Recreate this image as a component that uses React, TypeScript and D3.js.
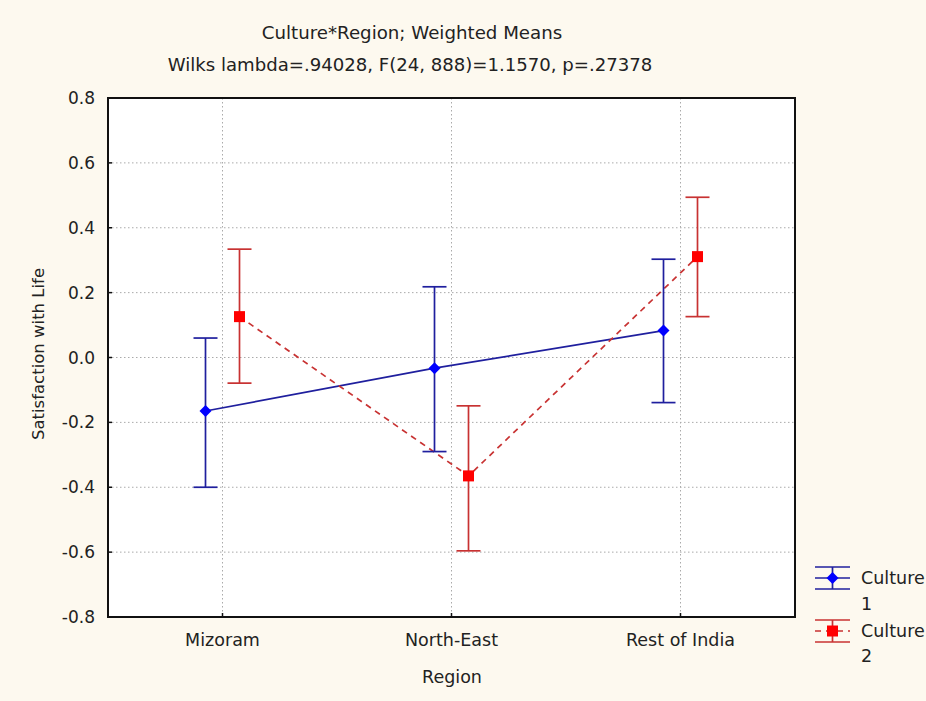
import React from "react";
import * as d3 from "d3";

// Weighted means of Satisfaction with Life by region, for each culture group,
// with confidence interval bounds.
const regions = ["Mizoram", "North-East", "Rest of India"];
const culture1Mean = [-0.165, -0.033, 0.083];
const culture1Upper = [0.06, 0.218, 0.303];
const culture1Lower = [-0.4, -0.29, -0.139];
const culture2Mean = [0.126, -0.365, 0.311];
const culture2Upper = [0.334, -0.149, 0.494];
const culture2Lower = [-0.079, -0.596, 0.126];
const yTicks = [0.8, 0.6, 0.4, 0.2, 0.0, -0.2, -0.4, -0.6, -0.8];

const W = 926;
const H = 701;
const plot = { left: 108, right: 795, top: 98, bottom: 617 };
const FONT = "'DejaVu Sans', sans-serif";
const TEXT = "#222";

const BLUE_LINE = "#1f1f9e";
const BLUE_MARK = "#0000ff";
const RED_LINE = "#c83232";
const RED_MARK = "#ff0000";

const fmtTick = (t: number) => d3.format(".1f")(t).replace("\u2212", "-");

export default function App() {
  const x = d3.scalePoint<string>().domain(regions).range([plot.left, plot.right]).padding(0.5);
  const y = d3.scaleLinear().domain([-0.8, 0.8]).range([plot.bottom, plot.top]);
  const offset = 17;
  const capHalf = 12;

  const c1 = regions.map((r, i) => ({
    x: (x(r) as number) - offset,
    m: culture1Mean[i],
    lo: culture1Lower[i],
    hi: culture1Upper[i],
  }));
  const c2 = regions.map((r, i) => ({
    x: (x(r) as number) + offset,
    m: culture2Mean[i],
    lo: culture2Lower[i],
    hi: culture2Upper[i],
  }));

  const line = d3
    .line<{ x: number; m: number }>()
    .x((d) => d.x)
    .y((d) => y(d.m));

  const errorBars = (pts: typeof c1, color: string) =>
    pts.map((p, i) => (
      <g key={i} stroke={color} strokeWidth={1.7} fill="none">
        <line x1={p.x} x2={p.x} y1={y(p.hi)} y2={y(p.lo)} />
        <line x1={p.x - capHalf} x2={p.x + capHalf} y1={y(p.hi)} y2={y(p.hi)} />
        <line x1={p.x - capHalf} x2={p.x + capHalf} y1={y(p.lo)} y2={y(p.lo)} />
      </g>
    ));

  const diamond = (cx: number, cy: number, r: number) =>
    `M${cx},${cy - r}L${cx + r},${cy}L${cx},${cy + r}L${cx - r},${cy}Z`;

  // legend geometry
  const lgX1 = 815;
  const lgX2 = 850;
  const lgCx = (lgX1 + lgX2) / 2;

  return (
    <svg
      width={W}
      height={H}
      style={{ position: "absolute", left: 0, top: 0, display: "block" }}
      fontFamily={FONT}
    >
      <rect x={0} y={0} width={W} height={H} fill="#fdf9ef" />

      {/* titles */}
      <text x={412} y={39} textAnchor="middle" fontSize={18.2} fill={TEXT}>
        Culture*Region; Weighted Means
      </text>
      <text x={410} y={71} textAnchor="middle" fontSize={18.1} fill={TEXT}>
        Wilks lambda=.94028, F(24, 888)=1.1570, p=.27378
      </text>

      {/* plot area */}
      <rect
        x={plot.left}
        y={plot.top}
        width={plot.right - plot.left}
        height={plot.bottom - plot.top}
        fill="#ffffff"
      />

      {/* grid */}
      <g stroke="#aaaaaa" strokeWidth={1} strokeDasharray="1.5,2.5">
        {yTicks
          .filter((t) => t !== 0.8 && t !== -0.8)
          .map((t) => (
            <line key={t} x1={plot.left} x2={plot.right} y1={y(t)} y2={y(t)} />
          ))}
        {regions.map((r) => (
          <line key={r} x1={x(r)} x2={x(r)} y1={plot.top} y2={plot.bottom} />
        ))}
      </g>

      {/* ticks */}
      <g stroke="#111" strokeWidth={1.5}>
        {yTicks.map((t) => (
          <line key={t} x1={plot.left} x2={plot.left + 4} y1={y(t)} y2={y(t)} />
        ))}
        {regions.map((r) => (
          <line key={r} x1={x(r)} x2={x(r)} y1={plot.bottom} y2={plot.bottom - 4} />
        ))}
      </g>

      {/* series lines */}
      <path d={line(c1) ?? ""} fill="none" stroke={BLUE_LINE} strokeWidth={1.7} />
      <path
        d={line(c2) ?? ""}
        fill="none"
        stroke={RED_LINE}
        strokeWidth={1.7}
        strokeDasharray="6,5"
      />

      {errorBars(c1, BLUE_LINE)}
      {errorBars(c2, RED_LINE)}

      {/* markers */}
      {c1.map((p, i) => (
        <path key={i} d={diamond(p.x, y(p.m), 6)} fill={BLUE_MARK} />
      ))}
      {c2.map((p, i) => (
        <rect key={i} x={p.x - 5.5} y={y(p.m) - 5.5} width={11} height={11} fill={RED_MARK} />
      ))}

      {/* frame */}
      <rect
        x={plot.left}
        y={plot.top}
        width={plot.right - plot.left}
        height={plot.bottom - plot.top}
        fill="none"
        stroke="#111"
        strokeWidth={2}
      />

      {/* y tick labels */}
      {yTicks.map((t) => (
        <text
          key={t}
          x={95}
          y={y(t)}
          dy="0.36em"
          textAnchor="end"
          fontSize={17}
          fill={TEXT}
        >
          {fmtTick(t)}
        </text>
      ))}

      {/* x tick labels */}
      {regions.map((r) => (
        <text key={r} x={x(r)} y={646} textAnchor="middle" fontSize={17.5} fill={TEXT}>
          {r}
        </text>
      ))}

      {/* axis titles */}
      <text x={452} y={683} textAnchor="middle" fontSize={17.5} fill={TEXT}>
        Region
      </text>
      <text
        transform={`translate(44,354) rotate(-90)`}
        textAnchor="middle"
        fontSize={16.5}
        fill={TEXT}
      >
        Satisfaction with Life
      </text>

      {/* legend */}
      <g stroke={BLUE_LINE} strokeWidth={1.7}>
        <line x1={lgX1} x2={lgX2} y1={567} y2={567} />
        <line x1={lgX1} x2={lgX2} y1={578} y2={578} />
        <line x1={lgX1} x2={lgX2} y1={589} y2={589} />
        <line x1={lgCx} x2={lgCx} y1={567} y2={589} />
      </g>
      <path d={diamond(lgCx, 578, 6)} fill={BLUE_MARK} />
      <text x={861} y={584} fontSize={17.5} fill={TEXT}>
        Culture
      </text>
      <text x={861} y={610} fontSize={17.5} fill={TEXT}>
        1
      </text>

      <g stroke={RED_LINE} strokeWidth={1.7}>
        <line x1={lgX1} x2={lgX2} y1={620} y2={620} />
        <line x1={lgX1} x2={lgX2} y1={631} y2={631} strokeDasharray="6,5" />
        <line x1={lgX1} x2={lgX2} y1={642} y2={642} />
        <line x1={lgCx} x2={lgCx} y1={620} y2={642} />
      </g>
      <rect x={lgCx - 5.5} y={625.5} width={11} height={11} fill={RED_MARK} />
      <text x={861} y={637} fontSize={17.5} fill={TEXT}>
        Culture
      </text>
      <text x={861} y={662} fontSize={17.5} fill={TEXT}>
        2
      </text>
    </svg>
  );
}
